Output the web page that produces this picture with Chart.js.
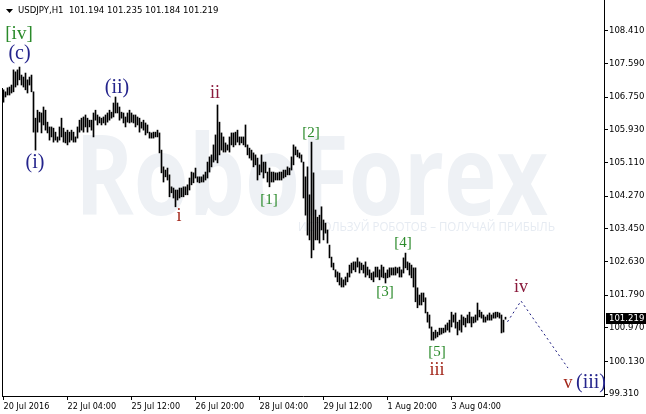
<!DOCTYPE html>
<html>
<head>
<meta charset="utf-8">
<title>USDJPY H1</title>
<script src="https://cdn.jsdelivr.net/npm/chart.js"></script>
<style>
	html, body { margin: 0; padding: 0; background: #fff; }
	canvas { display: block; }
</style>
</head>
<body>
<canvas id="usdjpy" width="646" height="414"></canvas>
<script>
	// ------------
	// --- Data ---
	// ------------
	var symbol = 'USDJPY,H1';
	var lastQuote = [101.194, 101.235, 101.184, 101.219]; // open, high, low, close

	var timeTicks = [0, 32, 64, 96, 128, 160, 192, 224];
	var timeLabels = ['20 Jul 2016', '22 Jul 04:00', '25 Jul 12:00', '26 Jul 20:00',
		'28 Jul 04:00', '29 Jul 12:00', '1 Aug 20:00', '3 Aug 04:00'];

	var priceTicks = [108.41, 107.59, 106.75, 105.93, 105.11, 104.27,
		103.45, 102.63, 101.79, 100.97, 100.13, 99.31];

	// hourly bars, one value per bar (high / low)
	var barHigh = [
		106.93, 106.88, 106.98, 107.00, 107.05, 107.43, 107.38, 107.43, 107.50, 107.30,
		107.25, 107.35, 107.18, 107.25, 107.30, 106.88, 106.22, 106.42, 106.37, 106.35,
		106.50, 106.42, 106.12, 106.00, 106.00, 105.97, 105.87, 105.75, 106.00, 106.22,
		105.97, 105.87, 105.92, 105.87, 105.92, 105.87, 105.75, 106.00, 106.17, 106.22,
		106.25, 106.30, 106.22, 106.17, 106.17, 106.35, 106.42, 106.30, 106.25, 106.22,
		106.25, 106.30, 106.35, 106.42, 106.37, 106.60, 106.75, 106.60, 106.50, 106.37,
		106.35, 106.25, 106.35, 106.42, 106.35, 106.30, 106.30, 106.25, 106.22, 106.12,
		106.17, 106.10, 106.05, 105.87, 105.85, 105.87, 105.87, 105.92, 105.85, 105.42,
		105.00, 104.92, 104.97, 104.80, 104.50, 104.47, 104.42, 104.42, 104.47, 104.47,
		104.50, 104.50, 104.55, 104.72, 104.87, 104.85, 104.97, 104.75, 104.75, 104.75,
		104.80, 104.87, 105.12, 105.25, 105.30, 105.55, 105.80, 106.55, 106.12, 105.85,
		105.75, 105.60, 105.55, 105.75, 105.85, 105.85, 105.87, 105.92, 105.75, 105.75,
		105.75, 106.05, 105.55, 105.47, 105.42, 105.35, 105.30, 105.22, 105.05, 105.30,
		105.12, 105.12, 104.87, 104.97, 104.87, 104.87, 104.85, 104.85, 104.87, 104.87,
		104.92, 104.92, 105.00, 104.97, 105.25, 105.55, 105.50, 105.42, 105.35, 105.30,
		105.12, 104.75, 105.00, 104.30, 105.62, 104.85, 103.92, 103.74, 103.79, 104.00,
		103.67, 103.59, 103.42, 103.04, 102.74, 102.59, 102.42, 102.37, 102.34, 102.22,
		102.17, 102.24, 102.34, 102.54, 102.59, 102.62, 102.62, 102.72, 102.62, 102.59,
		102.54, 102.62, 102.49, 102.42, 102.34, 102.37, 102.49, 102.49, 102.42, 102.54,
		102.49, 102.34, 102.42, 102.47, 102.47, 102.47, 102.49, 102.47, 102.49, 102.42,
		102.72, 102.84, 102.62, 102.59, 102.54, 102.47, 102.47, 101.97, 101.79, 101.84,
		101.84, 101.72, 101.36, 101.29, 100.99, 100.86, 100.91, 100.86, 100.96, 100.96,
		100.96, 101.04, 101.09, 101.16, 101.36, 101.29, 101.34, 101.11, 101.16, 101.29,
		101.24, 101.21, 101.29, 101.36, 101.24, 101.24, 101.29, 101.59, 101.41, 101.36,
		101.29, 101.24, 101.29, 101.34, 101.29, 101.34, 101.36, 101.36, 101.34, 101.29,
		101.16, 101.235
	];
	var barLow = [
		106.62, 106.75, 106.80, 106.80, 106.85, 106.88, 107.00, 107.05, 107.18, 107.05,
		107.00, 106.93, 106.85, 107.05, 106.88, 105.87, 105.42, 105.87, 106.12, 105.85,
		106.05, 105.92, 105.85, 105.67, 105.75, 105.62, 105.67, 105.62, 105.67, 105.75,
		105.62, 105.60, 105.55, 105.62, 105.67, 105.62, 105.62, 105.72, 105.87, 105.92,
		105.87, 106.00, 105.87, 106.00, 105.92, 105.75, 106.17, 106.05, 106.10, 106.05,
		106.10, 106.05, 106.12, 106.17, 106.22, 106.25, 106.35, 106.35, 106.17, 106.22,
		106.10, 106.00, 106.12, 106.10, 106.12, 106.10, 106.00, 106.05, 105.87, 105.97,
		105.92, 105.80, 105.85, 105.72, 105.72, 105.72, 105.75, 105.75, 105.35, 104.85,
		104.62, 104.75, 104.67, 104.25, 104.35, 104.22, 104.00, 104.17, 104.22, 104.25,
		104.25, 104.30, 104.30, 104.42, 104.55, 104.60, 104.72, 104.62, 104.60, 104.62,
		104.62, 104.67, 104.72, 104.87, 105.00, 105.12, 105.17, 105.10, 105.30, 105.42,
		105.37, 105.37, 105.42, 105.37, 105.55, 105.50, 105.55, 105.62, 105.55, 105.60,
		105.55, 105.50, 105.30, 105.22, 105.17, 105.00, 105.05, 104.67, 104.80, 104.87,
		104.72, 104.85, 104.62, 104.50, 104.62, 104.62, 104.67, 104.67, 104.67, 104.67,
		104.72, 104.75, 104.80, 104.80, 104.92, 105.05, 105.30, 105.25, 105.22, 105.12,
		104.22, 103.79, 103.29, 103.17, 102.72, 102.92, 103.17, 103.17, 103.09, 103.42,
		103.17, 103.34, 103.09, 102.72, 102.49, 102.42, 102.24, 102.12, 102.04, 101.99,
		101.99, 102.04, 102.12, 102.24, 102.34, 102.42, 102.37, 102.49, 102.34, 102.42,
		102.34, 102.24, 102.29, 102.22, 102.17, 102.12, 102.24, 102.24, 102.17, 102.24,
		102.22, 102.09, 102.22, 102.24, 102.29, 102.29, 102.29, 102.34, 102.24, 102.24,
		102.34, 102.47, 102.42, 102.29, 102.22, 101.99, 101.62, 101.47, 101.54, 101.54,
		101.62, 101.34, 101.11, 100.96, 100.66, 100.66, 100.71, 100.74, 100.79, 100.81,
		100.84, 100.86, 100.91, 100.86, 100.99, 101.11, 100.96, 100.79, 100.91, 100.86,
		101.04, 100.99, 101.09, 101.09, 100.99, 101.09, 101.11, 101.16, 101.24, 101.21,
		101.11, 101.11, 101.16, 101.16, 101.16, 101.21, 101.21, 101.24, 101.21, 100.84,
		100.86, 101.184
	];

	// forecast path (bar index / price)
	var forecastBar = [252, 258.75, 282.25];
	var forecastPrice = [101.12, 101.64, 99.96];

	// wave count labels
	var waveText = ['[iv]', '(c)', '(i)', '(ii)', 'ii', 'i', '[1]', '[2]', '[3]', '[4]', '[5]', 'iii', 'iv', 'v', '(iii)'];
	var waveBar = [7.75, 8, 15.75, 56.75, 105.75, 87.75, 132.75, 153.75, 190.75, 199.75, 216.75, 216.75, 258.75, 282.25, 293.75];
	var wavePrice = [108.33, 107.83, 105.10, 106.98, 106.85, 103.77, 104.17, 105.85, 101.87, 103.09, 100.36, 99.91, 101.99, 99.59, 99.59];
	var waveDegree = ['big', 'minor', 'minor', 'minor', 'minute', 'sub', 'small', 'small', 'small', 'small', 'small', 'sub', 'minute', 'sub', 'minor'];

	var degreeStyle = {
		big: { color: '#2a8a2a', size: 19 },
		small: { color: '#2a8a2a', size: 15 },
		minor: { color: '#24248c', size: 20 },
		minute: { color: '#8a1a3c', size: 18 },
		sub: { color: '#a3281c', size: 18 }
	};

	var axisFont = '"DejaVu Sans Condensed", "DejaVu Sans", sans-serif';

	// ---------------
	// --- Plugins ---
	// ---------------
	var backdrop = {
		id: 'backdrop',
		beforeDraw: function (chart) {
			var ctx = chart.ctx;
			ctx.save();
			ctx.fillStyle = '#ffffff';
			ctx.fillRect(0, 0, chart.width, chart.height);
			// watermark
			ctx.fillStyle = '#eef1f5';
			ctx.font = 'bold 112px "Open Sans", sans-serif';
			ctx.textBaseline = 'alphabetic';
			var w = ctx.measureText('RoboForex').width;
			ctx.save();
			ctx.translate(75, 215);
			ctx.scale(473 / w, 1);
			ctx.fillText('RoboForex', 0, 0);
			ctx.restore();
			ctx.fillStyle = '#e6ebf2';
			ctx.font = '12px "Open Sans", sans-serif';
			ctx.textBaseline = 'middle';
			var slogan = 'ИСПОЛЬЗУЙ РОБОТОВ – ПОЛУЧАЙ ПРИБЫЛЬ';
			var sw = ctx.measureText(slogan).width;
			ctx.translate(298, 228);
			ctx.scale(257 / sw, 1);
			ctx.fillText(slogan, 0, 0);
			ctx.restore();
		}
	};

	var overlay = {
		id: 'overlay',
		afterDatasetsDraw: function (chart) {
			var ctx = chart.ctx;
			var x = chart.scales.x, y = chart.scales.y;
			ctx.save();
			// left frame line
			ctx.strokeStyle = '#000';
			ctx.lineWidth = 1;
			ctx.beginPath();
			ctx.moveTo(chart.chartArea.left + 0.5, 88);
			ctx.lineTo(chart.chartArea.left + 0.5, chart.chartArea.bottom);
			ctx.stroke();
			// wave labels
			ctx.textAlign = 'center';
			ctx.textBaseline = 'middle';
			for (var i = 0; i < waveText.length; i++) {
				var st = degreeStyle[waveDegree[i]];
				ctx.fillStyle = st.color;
				ctx.font = st.size + 'px "Liberation Serif", "Times New Roman", serif';
				ctx.fillText(waveText[i], x.getPixelForValue(waveBar[i]), y.getPixelForValue(wavePrice[i]));
			}
			ctx.restore();
		},
		afterDraw: function (chart) {
			var ctx = chart.ctx;
			var y = chart.scales.y;
			ctx.save();
			// header
			ctx.fillStyle = '#000';
			ctx.beginPath();
			ctx.moveTo(6, 9);
			ctx.lineTo(13, 9);
			ctx.lineTo(9.5, 13);
			ctx.closePath();
			ctx.fill();
			ctx.font = '9.5px ' + axisFont;
			ctx.textBaseline = 'middle';
			ctx.fillText(symbol + '  ' + lastQuote.map(function (v) { return v.toFixed(3); }).join(' '), 18, 11);
			// last price marker
			var py = Math.round(y.getPixelForValue(lastQuote[3]));
			ctx.fillRect(606, py - 5, 40, 11);
			ctx.fillStyle = '#fff';
			ctx.fillText(lastQuote[3].toFixed(3), 609, py + 0.5);
			ctx.restore();
		}
	};

	// -------------
	// --- Chart ---
	// -------------
	var bars = barHigh.map(function (h, i) { return { x: i, y: [barLow[i], h] }; });
	var forecast = forecastBar.map(function (b, i) { return { x: b, y: forecastPrice[i] }; });

	new Chart(document.getElementById('usdjpy'), {
		type: 'bar',
		data: {
			datasets: [ {
				type: 'bar',
				data: bars,
				backgroundColor: '#000',
				barThickness: 1,
				borderWidth: 0,
				grouped: false
			}, {
				type: 'line',
				data: forecast,
				borderColor: '#1c1c80',
				borderWidth: 1,
				borderDash: [2, 3],
				pointRadius: 0,
				fill: false
			} ]
		},
		options: {
			responsive: false,
			animation: false,
			devicePixelRatio: 1,
			layout: { padding: { left: 2, top: 0, right: 0, bottom: 0 } },
			scales: {
				x: {
					type: 'linear',
					min: -0.75,
					max: 300.25,
					offset: false,
					border: { color: '#000', width: 1 },
					grid: { drawOnChartArea: false, tickLength: 4, color: '#000', offset: false },
					ticks: {
						autoSkip: false,
						maxRotation: 0,
						align: 'start',
						padding: 1,
						color: '#000',
						font: { family: axisFont, size: 9 },
						callback: function (value) {
							var k = timeTicks.indexOf(value);
							return k < 0 ? '' : timeLabels[k];
						}
					},
					afterBuildTicks: function (axis) {
						axis.ticks = timeTicks.map(function (v) { return { value: v }; });
					},
					afterFit: function (axis) {
						axis.height = 18;
						axis.paddingLeft = 0;
						axis.paddingRight = 0;
					}
				},
				y: {
					type: 'linear',
					position: 'right',
					min: 99.26,
					max: 109.18,
					border: { color: '#000', width: 1 },
					grid: { drawOnChartArea: false, tickLength: 4, color: '#000' },
					ticks: {
						autoSkip: false,
						padding: 1,
						color: '#000',
						font: { family: axisFont, size: 9.5 },
						callback: function (value) { return value.toFixed(3); }
					},
					afterBuildTicks: function (axis) {
						axis.ticks = priceTicks.map(function (v) { return { value: v }; });
					},
					afterFit: function (axis) {
						axis.width = 42;
						axis.paddingTop = 0;
						axis.paddingBottom = 0;
					}
				}
			},
			plugins: {
				legend: { display: false },
				tooltip: { enabled: false }
			}
		},
		plugins: [backdrop, overlay]
	});
</script>
</body>
</html>
